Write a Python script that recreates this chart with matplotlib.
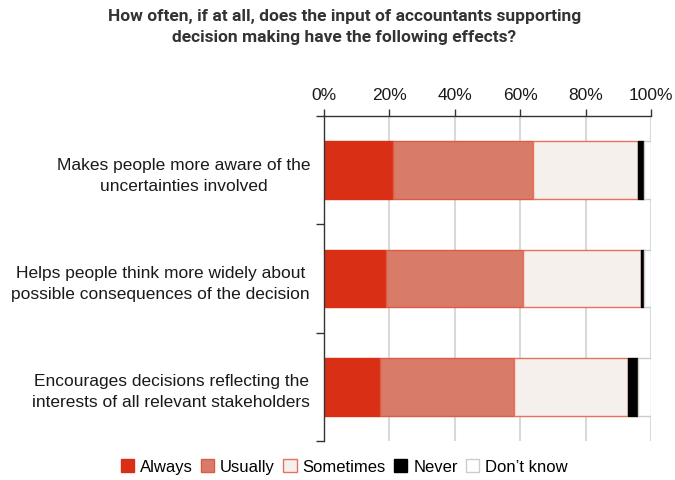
import matplotlib
matplotlib.use("Agg")
import matplotlib.pyplot as plt
from matplotlib.patches import Patch
import numpy as np

categories = [
    "Makes people more aware of the\nuncertainties involved",
    "Helps people think more widely about\npossible consequences of the decision",
    "Encourages decisions reflecting the\ninterests of all relevant stakeholders",
]
series_names = ["Always", "Usually", "Sometimes", "Never", "Don\u2019t know"]
always = [21, 19, 17]
usually = [43, 42, 41]
sometimes = [32, 36, 35]
never = [2, 1, 3]
dont_know = [2, 2, 4]
tick_values = [0, 20, 40, 60, 80, 100]
tick_labels = ["0%", "20%", "40%", "60%", "80%", "100%"]

fills = ["#D93015", "#D97B69", "#F5F0EB", "#000000", "#FFFFFF"]
edges = ["#D93015", "#DD5A45", "#E8715C", "#000000", "#CCCCCC"]

plt.rcParams["font.family"] = ["Liberation Sans", "DejaVu Sans"]

fig = plt.figure(figsize=(6.75, 4.81), dpi=100)
ax = fig.add_axes([0.48, 0.0811, 0.4844, 0.6757])

y = np.arange(len(categories))
left = np.zeros(len(categories))
for name, vals, fc, ec in zip(series_names, [always, usually, sometimes, never, dont_know], fills, edges):
    ax.barh(y, vals, left=left, height=0.53, color=fc, edgecolor=ec, linewidth=1.0, zorder=3)
    left += np.array(vals)

ax.set_xlim(0, 100)
ax.set_ylim(2.5, -0.5)

# vertical grid
for v in tick_values[1:]:
    ax.axvline(v, color="#D9D9D9", linewidth=1.5, zorder=1)

ax.xaxis.tick_top()
ax.set_xticks(tick_values)
ax.set_xticklabels(tick_labels, fontsize=12.5, color="#1a1a1a")
ax.tick_params(axis="x", direction="out", length=5, width=1, color="#333333", pad=5)

ax.set_yticks(y)
ax.set_yticklabels(categories, fontsize=12.5, color="#1a1a1a", ha="right", linespacing=1.5)
ax.tick_params(axis="y", which="major", length=0, pad=10)
ax.set_yticks([-0.5, 0.5, 1.5, 2.5], minor=True)
ax.tick_params(axis="y", which="minor", direction="out", length=6, width=1, color="#333333")
for lbl in ax.get_yticklabels():
    lbl.set_multialignment("center")

for s in ["right", "bottom"]:
    ax.spines[s].set_visible(False)
for s in ["top", "left"]:
    ax.spines[s].set_color("#333333")
    ax.spines[s].set_linewidth(1.0)
    ax.spines[s].set_zorder(4)

fig.text(0.51, 0.982,
         "How often, if at all, does the input of accountants supporting\ndecision making have the following effects?",
         ha="center", va="top", fontsize=12.5, fontweight="bold", color="#333333",
         family=["Roboto", "DejaVu Sans"], linespacing=1.55)

handles = [Patch(facecolor=fc, edgecolor=ec, linewidth=1.0) for fc, ec in zip(fills, edges)]
fig.legend(handles, series_names, loc="center", bbox_to_anchor=(0.51, 0.028), ncol=5,
           frameon=False, fontsize=12, handlelength=0.8, handleheight=0.8,
           handletextpad=0.35, columnspacing=0.5, borderaxespad=0)

fig.savefig("out.png", dpi=100)
